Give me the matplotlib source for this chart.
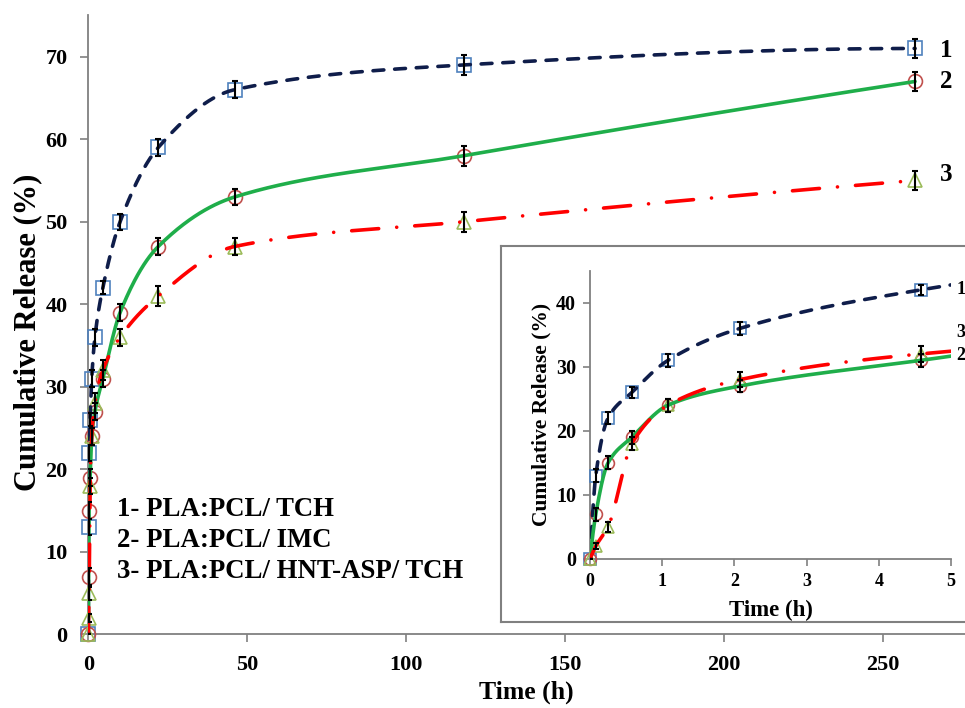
import numpy as np
import matplotlib
matplotlib.use("Agg")
import matplotlib.pyplot as plt

plt.rcParams['font.family'] = ['Liberation Serif', 'DejaVu Serif']
plt.rcParams['font.weight'] = 'bold'

# data
time_h = [0, 0.08, 0.25, 0.58, 1.08, 2.08, 4.58, 10, 22, 46, 118, 260]
rel_tch = [0, 13, 22, 26, 31, 36, 42, 50, 59, 66, 69, 71]
rel_imc = [0, 7, 15, 19, 24, 27, 31, 39, 47, 53, 58, 67]
rel_hnt = [0, 2, 5, 18, 24, 28, 32, 36, 41, 47, 50, 55]
err_tch = [0, 1, 1, 0.8, 1, 1, 0.8, 1, 1, 1, 1.2, 1.2]
err_imc = [0, 1, 1, 1, 1, 1, 1, 1, 1, 1, 1.2, 1.2]
err_hnt = [0, 0.5, 0.8, 1, 1, 1.2, 1.2, 1, 1.2, 1, 1.2, 1.2]
legend_lines = ["1- PLA:PCL/ TCH", "2- PLA:PCL/ IMC", "3- PLA:PCL/ HNT-ASP/ TCH"]


def smooth(x, y, xs):
    # monotone cubic (pchip) through the measured points
    x = np.asarray(x, float)
    y = np.asarray(y, float)
    h = np.diff(x)
    d = np.diff(y) / h
    n = len(x)
    m = np.zeros(n)
    for k in range(1, n - 1):
        if d[k - 1] * d[k] > 0:
            w1 = 2 * h[k] + h[k - 1]
            w2 = h[k] + 2 * h[k - 1]
            m[k] = (w1 + w2) / (w1 / d[k - 1] + w2 / d[k])
    m[0] = ((2 * h[0] + h[1]) * d[0] - h[0] * d[1]) / (h[0] + h[1])
    if np.sign(m[0]) != np.sign(d[0]):
        m[0] = 0
    m[-1] = ((2 * h[-1] + h[-2]) * d[-1] - h[-1] * d[-2]) / (h[-1] + h[-2])
    if np.sign(m[-1]) != np.sign(d[-1]):
        m[-1] = 0
    idx = np.clip(np.searchsorted(x, xs) - 1, 0, n - 2)
    t = (xs - x[idx]) / h[idx]
    h00 = 2 * t**3 - 3 * t**2 + 1
    h10 = t**3 - 2 * t**2 + t
    h01 = -2 * t**3 + 3 * t**2
    h11 = t**3 - t**2
    return h00 * y[idx] + h10 * h[idx] * m[idx] + h01 * y[idx + 1] + h11 * h[idx] * m[idx + 1]


xs = np.unique(np.concatenate([np.linspace(0, 5, 600), np.linspace(5, time_h[-1], 800)]))

series = [
    (rel_tch, err_tch, 's', '#4f81bd', '#0f1d4a', dict(dashes=(3.0, 3.0))),
    (rel_imc, err_imc, 'o', '#c0504d', '#1fae4a', dict(linestyle='-')),
    (rel_hnt, err_hnt, '^', '#9bbb59', '#ff0000', dict(dashes=(7.5, 5.0, 0.01, 5.0))),
]


def draw(ax, ms):
    for vals, err, mk, mcol, lcol, ls in series:
        ax.plot(time_h, vals, linestyle='none', marker=mk, markersize=ms,
                markerfacecolor='none', markeredgecolor=mcol, markeredgewidth=1.2,
                zorder=3, clip_on=False)
    for vals, err, mk, mcol, lcol, ls in series:
        ax.plot(xs, smooth(time_h, vals, xs), color=lcol, lw=2.6,
                solid_capstyle='round', dash_capstyle='round', zorder=4, **ls)
    for vals, err, mk, mcol, lcol, ls in series:
        ax.errorbar(time_h, vals, yerr=err, fmt='none', ecolor='black',
                    elinewidth=1.5, capsize=2.5, capthick=1.5, zorder=5)


fig = plt.figure(figsize=(9.65, 7.08), dpi=100)
ax = fig.add_axes([0.0915, 0.104, 0.9085, 0.875])
draw(ax, 10)
ax.set_xlim(0, 275.7)
ax.set_ylim(0, 75.07)
ax.set_xticks([0, 50, 100, 150, 200, 250])
ax.set_yticks(range(0, 71, 10))
for s in ['top', 'right']:
    ax.spines[s].set_visible(False)
for s in ['left', 'bottom']:
    ax.spines[s].set_color('#808080')
    ax.spines[s].set_linewidth(1.3)
ax.tick_params(colors='#808080', labelcolor='black', labelsize=16, length=6, width=1.2)
ax.tick_params(axis='x', pad=9)
ax.tick_params(axis='y', pad=9)
ax.set_xlabel("Time (h)", fontsize=18.5, fontweight='bold', labelpad=4)
ax.set_ylabel("Cumulative Release (%)", fontsize=22, fontweight='bold')
ax.yaxis.set_label_coords(-0.052, 0.487)

ax.text(267.8, 70.8, "1", fontsize=18, fontweight='bold', va='center')
ax.text(267.8, 67.0, "2", fontsize=18, fontweight='bold', va='center')
ax.text(267.8, 55.7, "3", fontsize=18, fontweight='bold', va='center')

for i, line in enumerate(legend_lines):
    ax.text(8.9, 14.34 - i * 3.78, line, fontsize=19.3, fontweight='bold', va='baseline')

# inset frame
frame = fig.add_axes([0.519, 0.122, 0.5, 0.531], zorder=5)
frame.set_xticks([])
frame.set_yticks([])
for s in frame.spines.values():
    s.set_color('#808080')
    s.set_linewidth(1.5)

ins = fig.add_axes([0.6114, 0.2105, 0.3741, 0.4072], zorder=6)
ins.patch.set_alpha(0)
draw(ins, 8.5)
ins.set_xlim(0, 5)
ins.set_ylim(0, 45)
ins.set_xticks(range(0, 6))
ins.set_yticks(range(0, 41, 10))
for s in ['top', 'right']:
    ins.spines[s].set_visible(False)
for s in ['left', 'bottom']:
    ins.spines[s].set_color('#808080')
    ins.spines[s].set_linewidth(1.3)
ins.tick_params(colors='#808080', labelcolor='black', length=5, width=1.2)
ins.tick_params(axis='x', labelsize=13, pad=5)
ins.tick_params(axis='y', labelsize=14.5, pad=5)
ins.set_xlabel("Time (h)", fontsize=16.5, fontweight='bold', labelpad=7)
ins.set_ylabel("Cumulative Release (%)", fontsize=15.5, fontweight='bold', labelpad=3)
ins.text(5.07, 42, "1", fontsize=13, fontweight='bold', va='center', clip_on=False)
ins.text(5.07, 35.3, "3", fontsize=13, fontweight='bold', va='center', clip_on=False)
ins.text(5.07, 31.7, "2", fontsize=13, fontweight='bold', va='center', clip_on=False)

fig.savefig("out.png", dpi=100)
